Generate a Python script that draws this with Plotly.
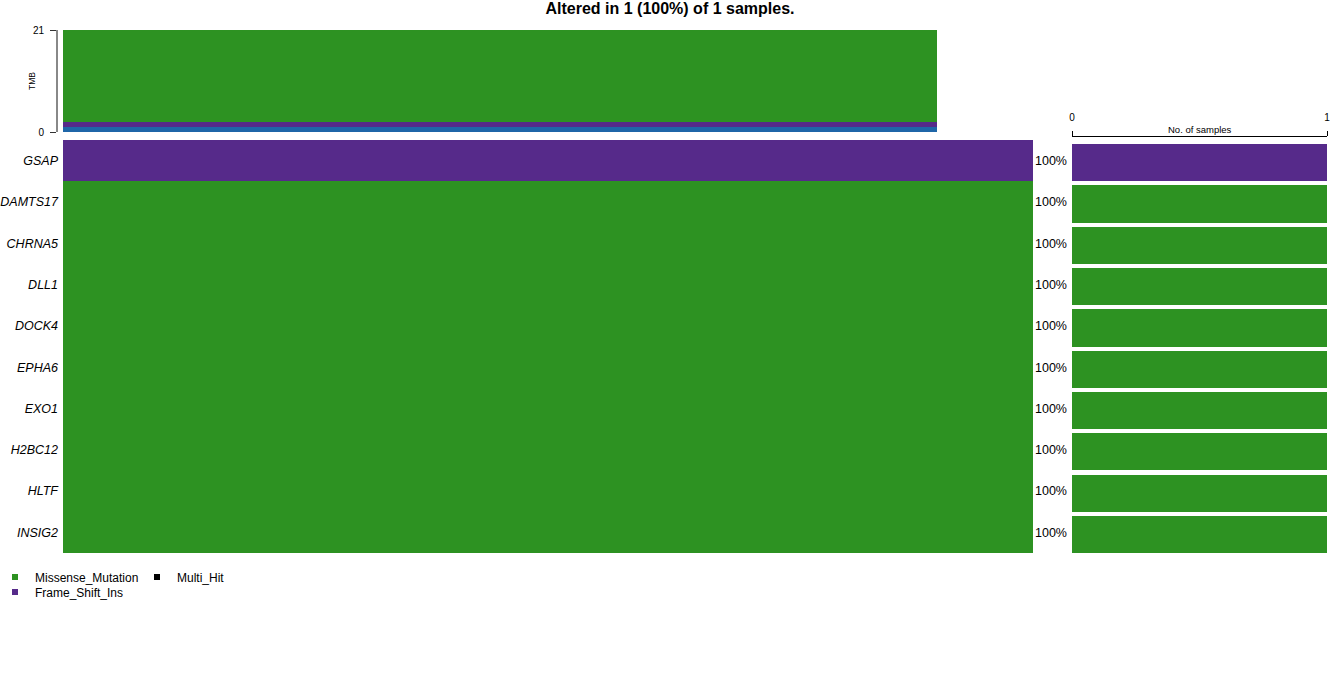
import plotly.graph_objects as go

W, H = 1340, 700
OX, OY = 0, 0

genes = ["GSAP", "ADAMTS17", "CHRNA5", "DLL1", "DOCK4", "EPHA6", "EXO1", "H2BC12", "HLTF", "INSIG2"]
gene_types = ["Frame_Shift_Ins"] + ["Missense_Mutation"] * 9
gene_counts = [1] * 10
n_samples = 1
n_altered = 1

tmb_types = ["Frame_Shift_Del", "Frame_Shift_Ins", "Missense_Mutation"]
tmb_values = [1, 1, 19]

legend_types = ["Missense_Mutation", "Frame_Shift_Ins", "Multi_Hit"]

colors = {
    "Missense_Mutation": "#2D9222",
    "Frame_Shift_Ins": "#562A8A",
    "Frame_Shift_Del": "#1F66A8",
    "Multi_Hit": "#000000",
}

FONT = "Liberation Sans, Arial, Helvetica, sans-serif"

def px_x(p):
    return (p - OX) / W

def px_y(p):
    return 1 - (p - OY) / H

fig = go.Figure()

# TMB stacked bar
for t, v in zip(tmb_types, tmb_values):
    fig.add_trace(go.Bar(x=[0], y=[v], width=1, marker=dict(color=colors[t], line=dict(width=0)),
                         name=t, showlegend=False, xaxis="x", yaxis="y"))

# Main grid
for t in ["Missense_Mutation", "Frame_Shift_Ins"]:
    idx = [i for i, g in enumerate(gene_types) if g == t]
    fig.add_trace(go.Bar(orientation="h", y=idx, x=[1] * len(idx), base=0, width=1,
                         marker=dict(color=colors[t], line=dict(width=0)),
                         name=t, showlegend=False, xaxis="x2", yaxis="y2"))

# Right bars
for t in ["Missense_Mutation", "Frame_Shift_Ins"]:
    idx = [i for i, g in enumerate(gene_types) if g == t]
    fig.add_trace(go.Bar(orientation="h", y=idx, x=[gene_counts[i] for i in idx], base=0,
                         width=0.9, offset=-0.4,
                         marker=dict(color=colors[t], line=dict(width=0)),
                         name=t, showlegend=False, xaxis="x3", yaxis="y3"))

# Legend entries (one legend per entry for exact placement)
legend_pos = {
    "Missense_Mutation": ("legend", -5, 577),
    "Frame_Shift_Ins": ("legend2", -5, 592),
    "Multi_Hit": ("legend3", 137, 577),
}
for t in legend_types:
    fig.add_trace(go.Scatter(x=[None], y=[None], mode="markers",
                             marker=dict(symbol="square", size=6, color=colors[t]),
                             name=t, showlegend=True, legend=legend_pos[t][0],
                             xaxis="x2", yaxis="y2"))

pct = [f"{round(100 * c / n_samples)}%" for c in gene_counts]

legend_layout = {}
for t, (lg, lx, ly) in legend_pos.items():
    legend_layout[lg] = dict(x=px_x(lx), y=px_y(ly), xanchor="left", yanchor="middle",
                             font=dict(size=12), itemwidth=30, bgcolor="rgba(0,0,0,0)",
                             borderwidth=0)

fig.update_layout(
    width=W, height=H,
    margin=dict(l=0, r=0, t=0, b=0, autoexpand=False),
    paper_bgcolor="white", plot_bgcolor="white",
    barmode="stack",
    font=dict(family=FONT, size=12, color="black"),
    title=dict(text=f"<b>Altered in {n_altered} ({round(100*n_altered/n_samples)}%) of {n_samples} samples.</b>",
               x=px_x(670), xanchor="center", y=px_y(8), yanchor="middle",
               font=dict(size=16, family=FONT, color="black")),
    xaxis=dict(domain=[px_x(63), px_x(937)], range=[-0.5, 0.5], visible=False, anchor="y",
               automargin=False),
    yaxis=dict(domain=[px_y(132), px_y(30)], range=[0, 21], tickvals=[0, 21],
               ticks="outside", ticklen=6, tickcolor="#333", tickfont=dict(size=10),
               ticklabelstandoff=4,
               showline=True, linecolor="#888", linewidth=2, showgrid=False, zeroline=False,
               anchor="free", position=px_x(57), automargin=False),
    xaxis2=dict(domain=[px_x(63), px_x(1033)], range=[0, 1], visible=False, anchor="y2",
                automargin=False),
    yaxis2=dict(domain=[px_y(553), px_y(140)], range=[9.5, -0.5],
                tickvals=list(range(len(genes))), ticktext=[f"<i>{g}</i>" for g in genes],
                ticks="", showgrid=False, zeroline=False, showline=False, ticklabelstandoff=4,
                tickfont=dict(size=12.5), anchor="x2", automargin=False),
    xaxis3=dict(domain=[px_x(1072), px_x(1327)], range=[0, 1], side="top",
                tickvals=[0, 1], ticks="outside", ticklen=5, tickcolor="black",
                showline=True, linecolor="black", linewidth=1, showgrid=False, zeroline=False,
                ticklabelstandoff=6,
                tickfont=dict(size=10), anchor="free", position=px_y(136), automargin=False),
    yaxis3=dict(domain=[px_y(553), px_y(140)], range=[9.5, -0.5],
                tickvals=list(range(len(genes))), ticktext=pct,
                ticks="", showgrid=False, zeroline=False, showline=False, ticklabelstandoff=4,
                tickfont=dict(size=12.5), anchor="x3", automargin=False),
    annotations=[
        dict(text="No. of samples", x=px_x(1199.5), y=px_y(129), xref="paper", yref="paper",
             showarrow=False, font=dict(size=9.5), xanchor="center", yanchor="middle"),
        dict(text="TMB", x=px_x(32), y=px_y(81), xref="paper", yref="paper", textangle=-90,
             showarrow=False, font=dict(size=8.5), xanchor="center", yanchor="middle"),
    ],
    **legend_layout,
)

fig.write_html(
    "out.html",
    config={"displayModeBar": False},
    post_script="document.body.style.margin='0';document.body.style.padding='0';",
)
